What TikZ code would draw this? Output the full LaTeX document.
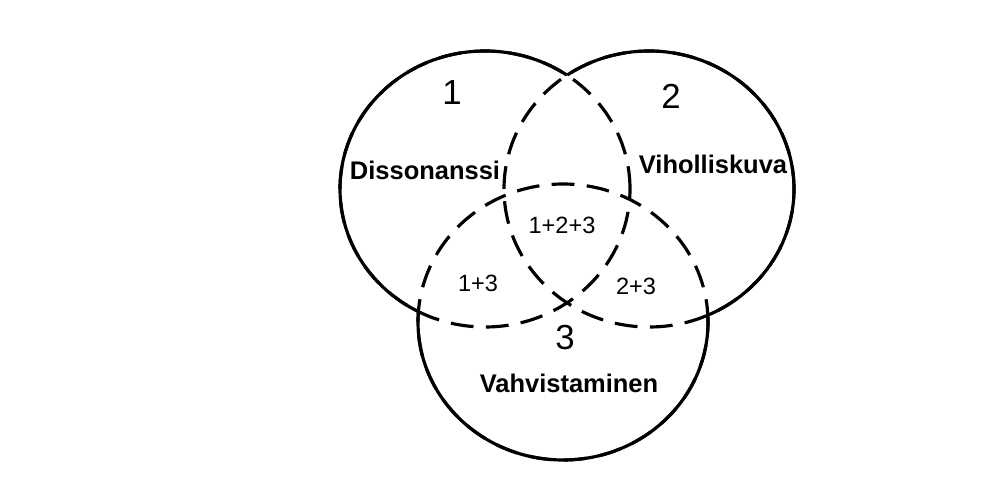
\documentclass[tikz,border=0pt]{standalone}
\usepackage{fontspec}
\setmainfont{Liberation Sans}
\usepackage{tikz}

\begin{document}
\begin{tikzpicture}[
		rim/.style={line width=1.8pt},
		inside/.style={rim, dash pattern=on 13pt off 7pt},
		bignum/.style={inner sep=0pt, font=\fontsize{19.8}{22}\selectfont},
		setname/.style={inner sep=0pt, font=\fontsize{14.5}{16}\selectfont\bfseries},
		overlap/.style={inner sep=0pt, font=\fontsize{13.4}{15}\selectfont}]
			\useasboundingbox (0,0) rectangle (20.08,-9.90);
			
			\coordinate (c1) at (9.70,-3.78);
			\coordinate (c2) at (12.98,-3.78);
			\coordinate (c3) at (11.26,-6.44);
			
			\draw[inside] (c1) ellipse [x radius=2.9, y radius=2.76];
			\draw[inside] (c2) ellipse [x radius=2.9, y radius=2.76];
			\draw[inside] (c3) ellipse [x radius=2.9, y radius=2.76];
			
			\begin{scope}[even odd rule]
				\clip (-1,1) rectangle (21,-11) (c2) ellipse [x radius=2.9, y radius=2.76];
				\clip (-1,1) rectangle (21,-11) (c3) ellipse [x radius=2.9, y radius=2.76];
				\draw[rim] (c1) ellipse [x radius=2.9, y radius=2.76];
			\end{scope}
			\begin{scope}[even odd rule]
				\clip (-1,1) rectangle (21,-11) (c1) ellipse [x radius=2.9, y radius=2.76];
				\clip (-1,1) rectangle (21,-11) (c3) ellipse [x radius=2.9, y radius=2.76];
				\draw[rim] (c2) ellipse [x radius=2.9, y radius=2.76];
			\end{scope}
			\begin{scope}[even odd rule]
				\clip (-1,1) rectangle (21,-11) (c1) ellipse [x radius=2.9, y radius=2.76];
				\clip (-1,1) rectangle (21,-11) (c2) ellipse [x radius=2.9, y radius=2.76];
				\draw[rim] (c3) ellipse [x radius=2.9, y radius=2.76];
			\end{scope}
			
			\node[bignum] (n1) at (9.04,-1.86) {1};
			\node[bignum] (n2) at (13.42,-1.92) {2};
			\node[bignum] (n3) at (11.30,-6.76) {3};
			
			\node[setname] (diss) at (8.50,-3.40) {Dissonanssi};
			\node[setname] (vih) at (14.26,-3.28) {Viholliskuva};
			\node[setname] (vahv) at (11.38,-7.66) {Vahvistaminen};
			
			\node[overlap] (all) at (11.24,-4.50) {1+2+3};
			\node[overlap] (o13) at (9.56,-5.66) {1+3};
			\node[overlap] (o23) at (12.72,-5.72) {2+3};
		\end{tikzpicture}
\end{document}
